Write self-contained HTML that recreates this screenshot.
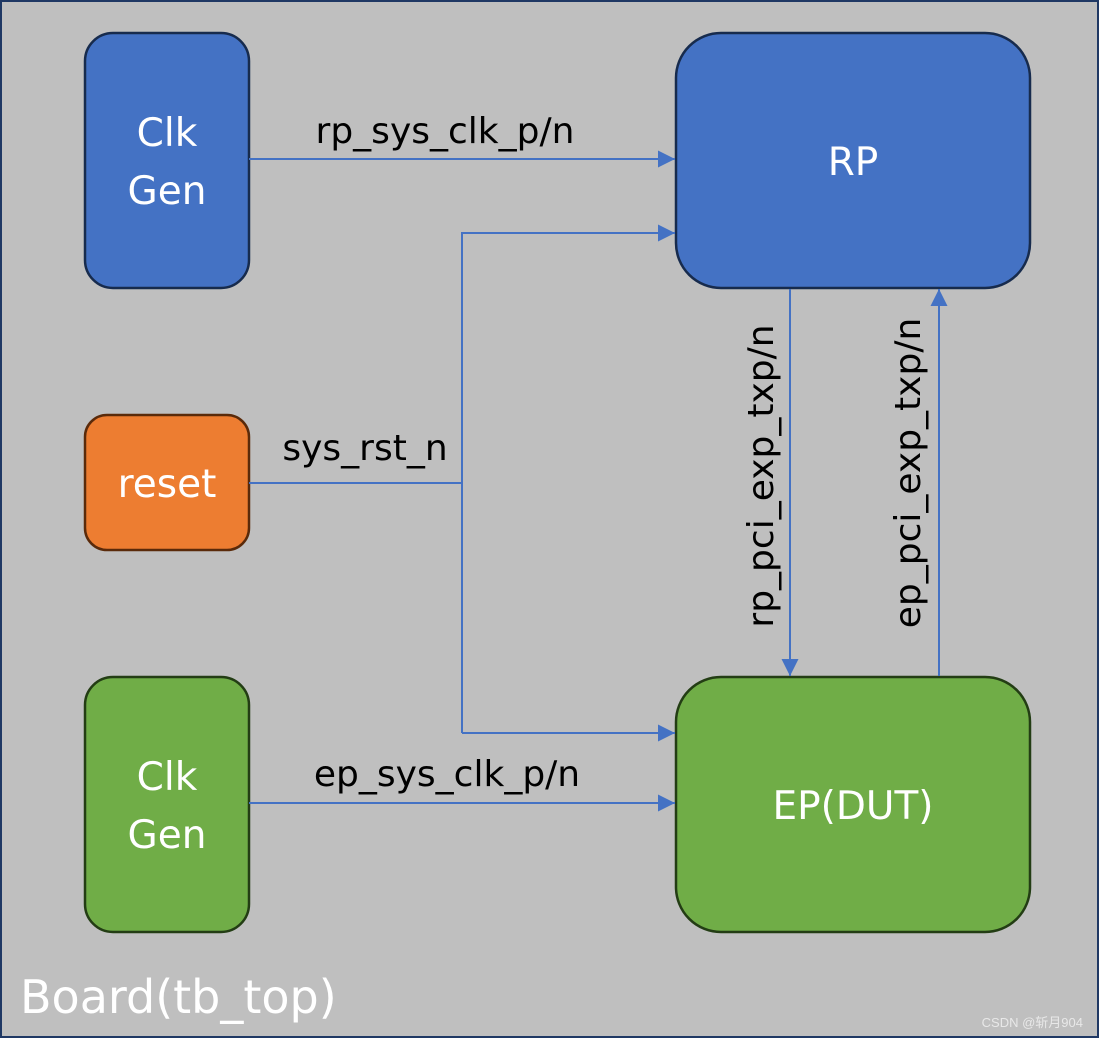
<!DOCTYPE html>
<html><head><style>html,body{margin:0;padding:0;background:#bfbfbf}svg{display:block}</style></head><body>
<svg width="1099" height="1038" xmlns="http://www.w3.org/2000/svg" font-family="'DejaVu Sans','Liberation Sans',sans-serif">
<defs>
<marker id="b" viewBox="0 0 10 10" markerWidth="17" markerHeight="17" refX="10" refY="5" orient="auto" markerUnits="userSpaceOnUse"><path d="M0,0 L10,5 L0,10 z" fill="#4472c4"/></marker></defs>
<rect x="1" y="1" width="1097" height="1036" fill="#bfbfbf" stroke="#1f3864" stroke-width="2"/>
<g stroke="#172b4d" stroke-width="2.5">
<rect x="85" y="33" width="164" height="255" rx="28" fill="#4472c4"/>
<rect x="676" y="33" width="354" height="255" rx="45" fill="#4472c4"/>
<rect x="85" y="415" width="164" height="135" rx="22" fill="#ed7d31" stroke="#5a2a0a"/>
<rect x="85" y="677" width="164" height="255" rx="28" fill="#70ad47" stroke="#233d14"/>
<rect x="676" y="677" width="354" height="255" rx="45" fill="#70ad47" stroke="#233d14"/>
</g>
<g stroke="#4472c4" stroke-width="2" fill="none">
<line x1="249" y1="159" x2="675" y2="159" marker-end="url(#b)"/>
<polyline points="462,733 462,233 675,233" marker-end="url(#b)"/>
<line x1="249" y1="483" x2="462" y2="483"/>
<line x1="462" y1="733" x2="675" y2="733" marker-end="url(#b)"/>
<line x1="249" y1="803" x2="675" y2="803" marker-end="url(#b)"/>
<line x1="790" y1="289" x2="790" y2="676" marker-end="url(#b)"/>
<line x1="939" y1="676" x2="939" y2="289" marker-end="url(#b)"/>
</g>
<g fill="#fff" font-size="39" text-anchor="middle">
<text x="167" y="146">Clk</text><text x="167" y="204">Gen</text>
<text x="853" y="175">RP</text>
<text x="167" y="497">reset</text>
<text x="167" y="790">Clk</text><text x="167" y="848">Gen</text>
<text x="853" y="819">EP(DUT)</text>
</g>
<g fill="#000" font-size="36" text-anchor="middle">
<text x="445" y="143">rp_sys_clk_p/n</text>
<text x="365" y="460">sys_rst_n</text>
<text x="447" y="786">ep_sys_clk_p/n</text>
<text transform="translate(773,476) rotate(-90)">rp_pci_exp_txp/n</text>
<text transform="translate(920,473) rotate(-90)">ep_pci_exp_txp/n</text>
</g>
<text x="20" y="1013" fill="#fff" font-size="46">Board(tb_top)</text>
<text x="1083" y="1027" fill="#e8e8e8" font-size="13" text-anchor="end" font-family="'Liberation Sans','Noto Sans CJK SC',sans-serif">CSDN @斩月904</text>
</svg>
</body></html>
